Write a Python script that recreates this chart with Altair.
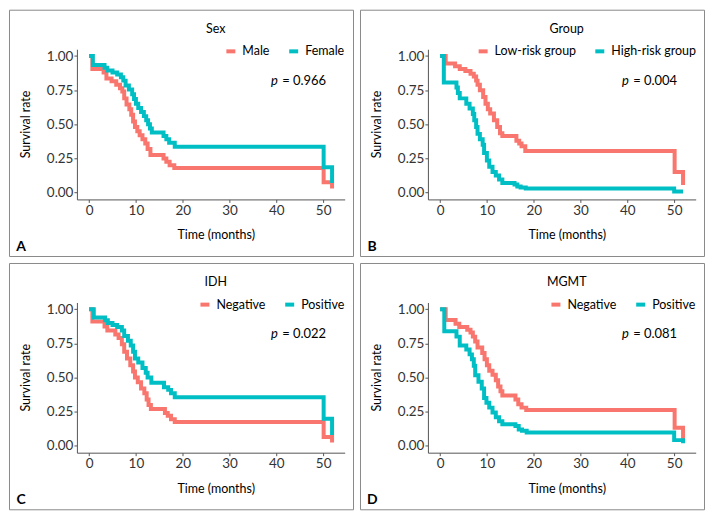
import altair as alt
import pandas as pd

# ---------------- data ----------------
panel_letters = ["A", "B", "C", "D"]
panel_titles = ["Sex", "Group", "IDH", "MGMT"]
p_values = ["0.966", "0.004", "0.022", "0.081"]
group_names = [["Male", "Female"],
               ["Low-risk group", "High-risk group"],
               ["Negative", "Positive"],
               ["Negative", "Positive"]]
x_ticks = [0, 10, 20, 30, 40, 50]
y_ticks = [0, 0.25, 0.5, 0.75, 1.0]

# Panel A: Sex
sex_male_t = [0, 0.7, 3.1, 3.7, 4.8, 5.8, 6.6, 7.1, 7.5, 8.0, 8.6, 9.0, 9.4, 9.8, 10.3, 10.8, 11.4, 12.0, 12.5, 13.1, 15.9, 16.5, 17.2, 18.2, 50.1, 51.9]
sex_male_s = [1.0, 0.905, 0.88, 0.835, 0.815, 0.79, 0.765, 0.74, 0.69, 0.645, 0.61, 0.57, 0.52, 0.48, 0.45, 0.42, 0.39, 0.36, 0.32, 0.275, 0.25, 0.225, 0.20, 0.18, 0.075, 0.03]
sex_female_t = [0, 0.8, 3.3, 3.9, 5.0, 6.0, 6.8, 7.3, 7.8, 8.5, 9.2, 9.6, 10.0, 10.5, 11.1, 11.7, 12.2, 12.6, 13.0, 13.4, 15.9, 16.5, 17.1, 18.3, 50.1, 51.9]
sex_female_s = [1.0, 0.935, 0.915, 0.895, 0.88, 0.865, 0.845, 0.82, 0.785, 0.755, 0.72, 0.685, 0.65, 0.62, 0.59, 0.56, 0.53, 0.50, 0.47, 0.44, 0.415, 0.39, 0.365, 0.335, 0.185, 0.07]

# Panel B: Group
grp_low_t = [0, 1.2, 3.2, 4.2, 5.4, 6.5, 7.2, 7.7, 8.0, 8.5, 9.2, 9.7, 10.2, 10.7, 11.5, 12.2, 12.8, 13.3, 16.3, 16.9, 17.4, 18.2, 50.1, 51.9]
grp_low_s = [1.0, 0.945, 0.925, 0.905, 0.89, 0.87, 0.85, 0.82, 0.79, 0.75, 0.70, 0.65, 0.61, 0.58, 0.53, 0.48, 0.435, 0.414, 0.38, 0.36, 0.34, 0.304, 0.151, 0.055]
grp_high_t = [0, 0.8, 3.5, 3.8, 4.2, 5.6, 6.3, 7.0, 7.3, 7.7, 8.0, 8.5, 9.1, 9.4, 10.0, 10.5, 11.2, 11.9, 12.6, 13.3, 15.9, 16.5, 17.2, 18.3, 50.0, 51.9]
grp_high_s = [1.0, 0.807, 0.77, 0.73, 0.69, 0.65, 0.615, 0.575, 0.53, 0.48, 0.43, 0.39, 0.35, 0.29, 0.235, 0.19, 0.15, 0.125, 0.095, 0.07, 0.06, 0.045, 0.038, 0.03, 0.008, 0.008]

# Panel C: IDH
idh_neg_t = [0, 0.7, 3.3, 3.9, 5.6, 6.3, 7.0, 7.5, 8.1, 8.8, 9.4, 9.8, 10.4, 11.1, 11.8, 12.3, 12.7, 13.2, 16.2, 16.8, 17.5, 18.3, 50.1, 51.9]
idh_neg_s = [1.0, 0.91, 0.875, 0.845, 0.815, 0.79, 0.745, 0.69, 0.64, 0.59, 0.545, 0.50, 0.465, 0.42, 0.385, 0.34, 0.30, 0.27, 0.24, 0.22, 0.195, 0.175, 0.065, 0.025]
idh_pos_t = [0, 1.0, 3.4, 4.0, 5.0, 6.0, 7.0, 7.5, 8.3, 8.9, 9.4, 9.8, 10.5, 11.4, 12.1, 12.5, 13.3, 16.0, 16.9, 17.5, 18.3, 50.1, 51.9]
idh_pos_s = [1.0, 0.94, 0.92, 0.90, 0.885, 0.87, 0.845, 0.805, 0.77, 0.735, 0.69, 0.64, 0.61, 0.57, 0.535, 0.50, 0.462, 0.43, 0.41, 0.385, 0.356, 0.198, 0.08]

# Panel D: MGMT
mgmt_neg_t = [0, 1.2, 3.3, 4.1, 5.8, 6.5, 7.0, 7.5, 8.0, 9.0, 9.5, 10.0, 10.5, 11.2, 11.9, 12.4, 12.9, 13.3, 16.1, 16.7, 17.4, 18.4, 50.1, 51.9]
mgmt_neg_s = [1.0, 0.922, 0.895, 0.87, 0.85, 0.83, 0.80, 0.765, 0.72, 0.68, 0.635, 0.59, 0.55, 0.52, 0.48, 0.435, 0.40, 0.368, 0.34, 0.305, 0.28, 0.262, 0.132, 0.035]
mgmt_pos_t = [0, 0.9, 3.5, 4.2, 5.6, 6.3, 6.8, 7.2, 7.5, 8.2, 8.9, 9.4, 9.9, 10.5, 11.2, 11.9, 12.6, 13.3, 16.1, 16.8, 17.5, 18.5, 50.0, 51.9]
mgmt_pos_s = [1.0, 0.84, 0.80, 0.735, 0.705, 0.67, 0.635, 0.587, 0.517, 0.47, 0.42, 0.35, 0.316, 0.28, 0.245, 0.21, 0.18, 0.158, 0.146, 0.12, 0.11, 0.097, 0.042, 0.02]

curves = [
    [(sex_male_t, sex_male_s), (sex_female_t, sex_female_s)],
    [(grp_low_t, grp_low_s), (grp_high_t, grp_high_s)],
    [(idh_neg_t, idh_neg_s), (idh_pos_t, idh_pos_s)],
    [(mgmt_neg_t, mgmt_neg_s), (mgmt_pos_t, mgmt_pos_s)],
]

# ---------------- layout / style ----------------
FONT = "Lato"
RED = "#F8766D"
TEAL = "#00BFC4"
W, H = 345, 247
SX, SY = W / 352.0, H / 255.0
X0, X1 = 69.5 * SX, 343.5 * SX       # x scale range inside the panel
Y0, Y1 = 196.4 * SY, 40.9 * SY       # y scale range inside the panel
AXIS_STYLE = dict(labelFont=FONT, labelFontSize=13.5, labelColor="#333333",
                  titleFont=FONT, titleFontSize=12.5, titleFontWeight="normal",
                  titleColor="black", domainColor="#555555", tickColor="#555555",
                  tickSize=3, labelPadding=1, grid=False)


def make_panel(i):
    g1, g2 = group_names[i]
    rows = []
    for g, (tt, ss) in zip([g1, g2], curves[i]):
        for a, b in zip(tt, ss):
            rows.append({"time": a, "surv": b, "group": g})
    df = pd.DataFrame(rows)

    xs = alt.Scale(domain=[-2.6, 54.6], range=[X0, X1], nice=False, zero=False)
    ys = alt.Scale(domain=[-0.05, 1.05], range=[Y0, Y1], nice=False, zero=False)
    cs = alt.Scale(domain=[g1, g2], range=[RED, TEAL])
    xaxis = alt.Axis(values=x_ticks, title="Time (months)", offset=Y0 - H,
                     titleX=211.5 * SX, titleY=233 * SY - Y0,
                     titleBaseline="middle", titleAlign="center", **AXIS_STYLE)
    yaxis = alt.Axis(values=y_ticks, format=".2f", title="Survival rate",
                     offset=-X0, titleX=17.2 * SX - X0, titleY=118.3 * SY,
                     titleBaseline="middle", titleAlign="center", **AXIS_STYLE)
    # top-right corner legend; an empty title pushes the entries down
    legend = alt.Legend(title=" ", titleFontSize=10, titlePadding=17,
                        orient="top-right", offset=8, direction="horizontal")

    base = alt.Chart(df)
    layers = []
    for g in [g1, g2]:
        layers.append(
            base.transform_filter(alt.datum.group == g)
            .mark_line(interpolate="step-after", strokeWidth=4, strokeJoin="miter")
            .encode(
                x=alt.X("time:Q", scale=xs, axis=xaxis),
                y=alt.Y("surv:Q", scale=ys, axis=yaxis),
                color=alt.Color("group:N", scale=cs, legend=legend),
            )
        )

    tdf = pd.DataFrame({"title": [panel_titles[i]], "letter": [panel_letters[i]],
                        "p": ["p"], "pv": ["= " + p_values[i]]})
    tb = alt.Chart(tdf)
    layers.append(tb.mark_text(font=FONT, fontSize=12.5, color="black", align="center", baseline="middle")
                  .encode(x=alt.value(211.5 * SX), y=alt.value(20 * SY), text="title:N"))
    layers.append(tb.mark_text(font=FONT, fontSize=14, fontWeight="bold", color="black", align="center", baseline="middle")
                  .encode(x=alt.value(12.5 * SX), y=alt.value(245.5 * SY), text="letter:N"))
    layers.append(tb.mark_text(font=FONT, fontSize=13, fontStyle="italic", color="black", align="right", baseline="middle")
                  .encode(x=alt.value(275 * SX), y=alt.value(74 * SY), text="p:N"))
    layers.append(tb.mark_text(font=FONT, fontSize=13, color="black", align="left", baseline="middle")
                  .encode(x=alt.value(279.5 * SX), y=alt.value(74 * SY), text="pv:N"))
    return alt.layer(*layers).properties(width=W, height=H)


panels = [make_panel(i) for i in range(4)]


def row(a, b):
    return (alt.hconcat(a, b, spacing=5)
            .resolve_scale(color="independent")
            .resolve_legend(color="independent"))


chart = (
    alt.vconcat(row(panels[0], panels[1]), row(panels[2], panels[3]), spacing=5)
    .resolve_scale(color="independent")
    .resolve_legend(color="independent")
    .properties(padding=0, background="white")
    .configure(font=FONT)
    .configure_view(stroke="#8a8a8a", strokeWidth=1)
    .configure_legend(
        labelFont=FONT, labelFontSize=12.5, labelColor="black",
        symbolType="stroke", symbolSize=81, symbolStrokeWidth=4,
        labelOffset=5, columnPadding=11, padding=0, rowPadding=0,
    )
)

chart.save("out.html", embed_options={"renderer": "svg", "actions": False})
